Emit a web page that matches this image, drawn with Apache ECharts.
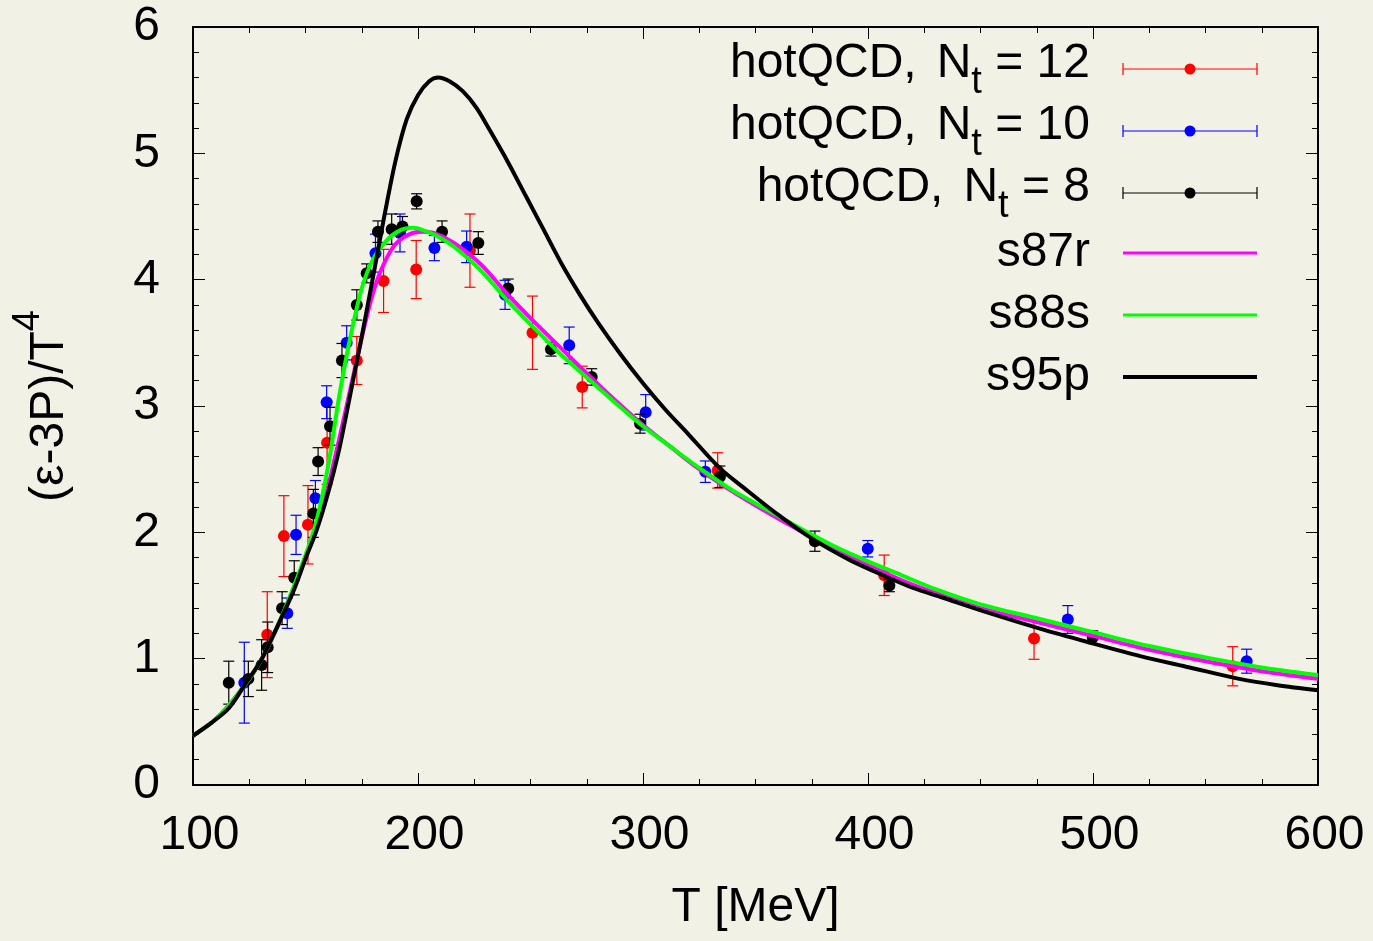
<!DOCTYPE html>
<html>
<head>
<meta charset="utf-8">
<script src="https://cdn.jsdelivr.net/npm/echarts@6/dist/echarts.min.js"></script>
<style>
  html, body { margin: 0; padding: 0; background: #f2f1e6; }
  #trace-chart { width: 1373px; height: 941px; }
</style>
</head>
<body>
<div id="trace-chart"></div>
<script>
/*
* (e-3P)/T^4 : lattice points + parametrisations
*/
var myChart = echarts.init(document.getElementById('trace-chart'));

// hotQCD Nt=12
var nt12T   = [133.0, 140.4, 151.1, 159.6, 172.8, 184.7, 199.2, 223.1, 250.9, 273.0, 333.2, 407.2, 473.8, 562.1];
var nt12Val = [1.19, 1.97, 2.06, 2.71, 3.36, 3.99, 4.08, 4.23, 3.58, 3.15, 2.49, 1.66, 1.16, 0.94];
var nt12Err = [0.34, 0.32, 0.31, 0.33, 0.19, 0.25, 0.23, 0.29, 0.29, 0.165, 0.14, 0.16, 0.165, 0.155];

// hotQCD Nt=10
var nt10T   = [122.8, 141.9, 145.8, 154.4, 159.4, 168.3, 181.1, 192.0, 207.3, 221.6, 238.7, 267.2, 301.2, 327.7, 399.9, 488.8, 568.3];
var nt10Val = [0.81, 1.36, 1.98, 2.27, 3.03, 3.50, 4.21, 4.37, 4.25, 4.26, 3.88, 3.48, 2.95, 2.48, 1.87, 1.31, 0.98];
var nt10Err = [0.32, 0.12, 0.155, 0.14, 0.13, 0.135, 0.15, 0.15, 0.1, 0.125, 0.115, 0.145, 0.14, 0.085, 0.065, 0.11, 0.095];

// hotQCD Nt=8
var nt8T   = [115.9, 124.6, 130.5, 133.2, 139.6, 145.0, 153.5, 155.6, 160.9, 166.2, 172.8, 177.2, 182.2, 188.3, 193.1, 199.4, 210.7, 226.8, 240.1, 259.1, 277.2, 298.7, 334.2, 376.4, 409.5, 499.9];
var nt8Val = [0.81, 0.84, 0.95, 1.09, 1.40, 1.64, 2.15, 2.56, 2.84, 3.36, 3.80, 4.05, 4.38, 4.40, 4.42, 4.62, 4.38, 4.29, 3.93, 3.45, 3.23, 2.86, 2.44, 1.93, 1.58, 1.17];
var nt8Err = [0.17, 0.14, 0.2, 0.2, 0.13, 0.135, 0.19, 0.11, 0.15, 0.135, 0.12, 0.075, 0.085, 0.12, 0.08, 0.06, 0.085, 0.09, 0.075, 0.055, 0.065, 0.075, 0.085, 0.08, 0.05, 0.05];

// s87r
var s87rT   = [100, 110, 120, 130, 140, 150, 155, 160, 165, 170, 175, 179, 183, 189, 195, 201, 207, 216, 228, 240, 252, 264, 276, 288, 300, 312, 325, 340, 355, 370, 385, 400, 415, 430, 450, 475, 500, 525, 550, 575, 600];
var s87rVal = [0.39, 0.52, 0.72, 0.98, 1.35, 1.80, 2.05, 2.36, 2.74, 3.14, 3.54, 3.83, 4.05, 4.26, 4.35, 4.38, 4.37, 4.29, 4.12, 3.88, 3.66, 3.45, 3.24, 3.04, 2.85, 2.68, 2.50, 2.32, 2.16, 2.01, 1.87, 1.74, 1.62, 1.52, 1.40, 1.29, 1.18, 1.07, 0.98, 0.90, 0.84];

// s88s
var s88sT   = [100, 110, 120, 130, 140, 150, 155, 160, 165, 170, 175, 180, 186, 192, 198, 204, 210, 216, 228, 240, 252, 264, 276, 288, 300, 312, 325, 340, 355, 370, 385, 400, 415, 430, 450, 475, 500, 525, 550, 575, 600];
var s88sVal = [0.39, 0.52, 0.72, 0.98, 1.36, 1.82, 2.10, 2.52, 3.08, 3.55, 3.93, 4.16, 4.31, 4.39, 4.41, 4.38, 4.33, 4.26, 4.07, 3.83, 3.61, 3.40, 3.21, 3.02, 2.84, 2.68, 2.51, 2.33, 2.18, 2.03, 1.89, 1.77, 1.66, 1.55, 1.43, 1.32, 1.21, 1.10, 1.01, 0.93, 0.87];

// s95p
var s95pT   = [100, 108, 116, 124, 130, 135, 140, 145, 150, 155, 160, 165, 170, 175, 180, 185, 190, 195, 200, 205, 209, 214, 220, 226, 232, 240, 248, 256, 264, 272, 280, 290, 300, 310, 320, 334, 345, 360, 376, 392, 408, 420, 432, 454, 476, 498, 521, 543, 565, 582, 600];
var s95pVal = [0.39, 0.49, 0.61, 0.82, 0.98, 1.16, 1.35, 1.55, 1.79, 2.02, 2.31, 2.66, 3.10, 3.55, 4.02, 4.50, 4.94, 5.27, 5.46, 5.57, 5.60, 5.57, 5.49, 5.36, 5.18, 4.93, 4.66, 4.39, 4.12, 3.88, 3.66, 3.41, 3.18, 2.97, 2.78, 2.51, 2.35, 2.14, 1.94, 1.78, 1.65, 1.56, 1.49, 1.36, 1.24, 1.13, 1.02, 0.93, 0.84, 0.79, 0.75];

var xTicks = [100, 200, 300, 400, 500, 600];
var yTicks = [0, 1, 2, 3, 4, 5, 6];

var FONT = 'Liberation Sans, Arial, sans-serif';

function zip(a, b, c) {
	var out = [];
	for (var i = 0; i < a.length; i++) {
		out.push(c ? [a[i], b[i], c[i]] : [a[i], b[i]]);
	}
	return out;
}

//误差棒 + 圆点
function errItem(color) {
	return function (params, api) {
		var x = api.value(0), y = api.value(1), e = api.value(2);
		var c = api.coord([x, y]);
		var hi = api.coord([x, y + e]);
		var lo = api.coord([x, y - e]);
		var w = 5.5;
		var st = { stroke: color, lineWidth: 1.2 };
		return {
			type: 'group',
			children: [
				{ type: 'line', shape: { x1: c[0], y1: hi[1], x2: c[0], y2: lo[1] }, style: st },
				{ type: 'line', shape: { x1: c[0] - w, y1: hi[1], x2: c[0] + w, y2: hi[1] }, style: st },
				{ type: 'line', shape: { x1: c[0] - w, y1: lo[1], x2: c[0] + w, y2: lo[1] }, style: st },
				{ type: 'circle', shape: { cx: c[0], cy: c[1], r: 6 }, style: { fill: color } }
			]
		};
	};
}

function pointSeries(name, color, t, v, e) {
	return {
		name: name,
		type: 'custom',
		renderItem: errItem(color),
		encode: { x: 0, y: 1 },
		data: zip(t, v, e),
		silent: true
	};
}

function curveSeries(name, color, t, v) {
	return {
		name: name,
		type: 'line',
		smooth: 0.3,
		showSymbol: false,
		silent: true,
		lineStyle: { color: color, width: 4 },
		data: zip(t, v)
	};
}

//图例 (gnuplot 风格)
var legendRows = [
	{ text: '{a|hotQCD,}{n|N}{s|t}{a| = 12}', color: '#ff0000', err: true, y: 69 },
	{ text: '{a|hotQCD,}{n|N}{s|t}{a| = 10}', color: '#0000ff', err: true, y: 131 },
	{ text: '{a|hotQCD,}{n|N}{s|t}{a| = 8}', color: '#000000', err: true, y: 193 },
	{ text: '{a|s87r}', color: '#ff00ff', err: false, w: 3, y: 253 },
	{ text: '{a|s88s}', color: '#00ff00', err: false, w: 3, y: 315 },
	{ text: '{a|s95p}', color: '#000000', err: false, w: 4, y: 377 }
];
var graphics = [];
legendRows.forEach(function (r) {
	graphics.push({
		type: 'text', x: 1090, y: r.err ? r.y - 5 : r.y,
		style: {
			text: r.text, align: 'right', verticalAlign: 'middle',
			rich: {
				a: { fontSize: 48, fontFamily: FONT, fill: '#000', verticalAlign: 'middle' },
				n: { fontSize: 48, fontFamily: FONT, fill: '#000', verticalAlign: 'middle', padding: [0, 0, 0, 20] },
				s: { fontSize: 38, fontFamily: FONT, fill: '#000', verticalAlign: 'middle', padding: [37, 0, 0, 0] }
			}
		}
	});
	if (r.err) {
		var st = { stroke: r.color, lineWidth: 1.2 };
		graphics.push({ type: 'line', shape: { x1: 1123, y1: r.y, x2: 1257, y2: r.y }, style: st });
		graphics.push({ type: 'line', shape: { x1: 1123, y1: r.y - 6, x2: 1123, y2: r.y + 6 }, style: st });
		graphics.push({ type: 'line', shape: { x1: 1257, y1: r.y - 6, x2: 1257, y2: r.y + 6 }, style: st });
		graphics.push({ type: 'circle', shape: { cx: 1190, cy: r.y, r: 5.5 }, style: { fill: r.color } });
	} else {
		graphics.push({ type: 'line', shape: { x1: 1123, y1: r.y, x2: 1257, y2: r.y }, style: { stroke: r.color, lineWidth: r.w } });
	}
});

var axisCommon = {
	type: 'value',
	axisLine: { show: true, onZero: false, lineStyle: { color: '#000', width: 2 } },
	axisTick: { show: true, inside: true, length: 12, lineStyle: { color: '#000', width: 1 } },
	minorTick: { show: true, length: 6, lineStyle: { color: '#000', width: 1 } },
	splitLine: { show: false },
	minorSplitLine: { show: false }
};

var option = {
	backgroundColor: '#f2f1e6',
	animation: false,
	textStyle: { fontFamily: FONT },
	grid: { left: 193, right: 55, top: 27, bottom: 156, containLabel: false, outerBoundsMode: 'none' },
	xAxis: [
		echarts.util.merge({
			position: 'bottom',
			min: xTicks[0], max: xTicks[xTicks.length - 1], interval: 100,
			minorTick: { splitNumber: 4 },
			axisLabel: { fontSize: 48, color: '#000', margin: 27, fontFamily: FONT, padding: [0, 0, 0, 13] },
			name: 'T [MeV]', nameLocation: 'middle', nameGap: 99,
			nameTextStyle: { fontSize: 48, color: '#000', fontFamily: FONT }
		}, axisCommon, false),
		echarts.util.merge({
			position: 'top',
			min: xTicks[0], max: xTicks[xTicks.length - 1], interval: 100,
			minorTick: { splitNumber: 4 },
			axisLabel: { show: false }
		}, axisCommon, false)
	],
	yAxis: [
		echarts.util.merge({
			position: 'left',
			min: yTicks[0], max: yTicks[yTicks.length - 1], interval: 1,
			minorTick: { splitNumber: 5 },
			axisLabel: { fontSize: 48, color: '#000', margin: 33, fontFamily: FONT },
			name: '{a|(ε-3P)/T}{p|4}', nameLocation: 'middle', nameRotate: 90, nameGap: 104,
			nameTextStyle: {
				rich: {
					a: { fontSize: 48, color: '#000', fontFamily: FONT, verticalAlign: 'middle' },
					p: { fontSize: 38, color: '#000', fontFamily: FONT, verticalAlign: 'middle', padding: [0, 0, 41, 0] }
				}
			}
		}, axisCommon, false),
		echarts.util.merge({
			position: 'right',
			min: yTicks[0], max: yTicks[yTicks.length - 1], interval: 1,
			minorTick: { splitNumber: 5 },
			axisLabel: { show: false }
		}, axisCommon, false)
	],
	graphic: graphics,
	series: [
		pointSeries('hotQCD, Nt = 12', '#ff0000', nt12T, nt12Val, nt12Err),
		pointSeries('hotQCD, Nt = 10', '#0000ff', nt10T, nt10Val, nt10Err),
		pointSeries('hotQCD, Nt = 8', '#000000', nt8T, nt8Val, nt8Err),
		curveSeries('s87r', '#ff00ff', s87rT, s87rVal),
		curveSeries('s88s', '#00ff00', s88sT, s88sVal),
		curveSeries('s95p', '#000000', s95pT, s95pVal)
	]
};
myChart.setOption(option);
</script>
</body>
</html>
